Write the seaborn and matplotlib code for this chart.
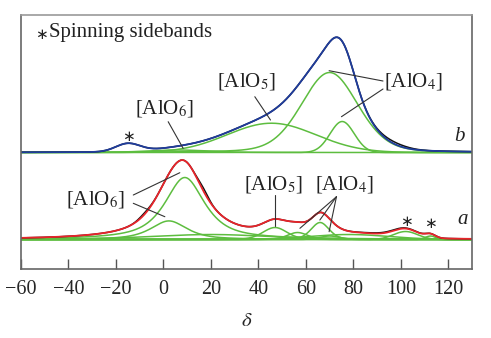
import numpy as np
import pandas as pd
import matplotlib
matplotlib.use("Agg")
import matplotlib.pyplot as plt
import seaborn as sns

# ---------------- data ----------------
# chemical shift grid
delta = np.linspace(-60, 130, 951)

# spectrum b (upper) : fitted components  (center, height, fwhm, lorentz fraction)
b_base = 116.5
b_centers = [6.0, 45.5, 70.0, 75.3]
b_heights = [2.5, 29.3, 80.0, 31.0]
b_widths = [30.0, 44.0, 28.0, 12.0]
b_eta = [0.3, 0.0, 0.2, 0.0]
# spinning sideband in b (in the fit, no separate component drawn)
b_sb_center = [-15.0]
b_sb_height = [8.0]
b_sb_width = [12.0]
# experiment - fit residual bumps in b
b_res_center = [97.0]
b_res_height = [2.0]
b_res_width = [14.0]

# spectrum a (lower) : fitted components
a_base = 29.5
a_centers = [9.0, 2.3, 20.0, 47.0, 56.5, 66.0, 70.0, 78.0, 102.0, 112.5]
a_heights = [62.0, 18.6, 5.0, 12.0, 7.0, 17.0, 3.5, 5.0, 8.0, 3.5]
a_widths = [20.0, 18.0, 60.0, 12.0, 10.0, 9.0, 10.0, 40.0, 12.0, 5.0]
a_eta = [0.8, 0.7, 0.5, 0.2, 0.2, 0.3, 0.0, 0.0, 0.0, 0.0]
# experiment - fit residual bumps in a
a_res_center = [17.0, -8.0, 95.0]
a_res_height = [3.0, 1.5, 0.8]
a_res_width = [5.0, 6.0, 20.0]

xticks = [-60, -40, -20, 0, 20, 40, 60, 80, 100, 120]


def pv(x, c, h, w, eta):
    L = 1.0 / (1.0 + ((x - c) / (w / 2.0)) ** 2)
    G = np.exp(-4 * np.log(2) * ((x - c) / w) ** 2)
    return h * (eta * L + (1 - eta) * G)


# ---------------- build curves ----------------
b_comps = [pv(delta, c, h, w, e) for c, h, w, e in zip(b_centers, b_heights, b_widths, b_eta)]
b_sb = [pv(delta, c, h, w, 0) for c, h, w in zip(b_sb_center, b_sb_height, b_sb_width)]
b_fit = np.sum(b_comps, axis=0) + np.sum(b_sb, axis=0)
b_exp = b_fit + np.sum([pv(delta, c, h, w, 0) for c, h, w in zip(b_res_center, b_res_height, b_res_width)], axis=0)

a_comps = [pv(delta, c, h, w, e) for c, h, w, e in zip(a_centers, a_heights, a_widths, a_eta)]
a_fit = np.sum(a_comps, axis=0)
a_exp = a_fit + np.sum([pv(delta, c, h, w, 0) for c, h, w in zip(a_res_center, a_res_height, a_res_width)], axis=0)

green_df = []
for i, comp in enumerate(b_comps):
    green_df.append(pd.DataFrame({"delta": delta, "y": b_base + comp, "curve": f"b{i}"}))
for i, comp in enumerate(a_comps):
    green_df.append(pd.DataFrame({"delta": delta, "y": a_base + comp, "curve": f"a{i}"}))
green_df = pd.concat(green_df, ignore_index=True)

exp_df = pd.concat([
    pd.DataFrame({"delta": delta, "y": b_base + b_exp, "curve": "b"}),
    pd.DataFrame({"delta": delta, "y": a_base + a_exp, "curve": "a"}),
], ignore_index=True)

# ---------------- plot ----------------
sns.set_theme(style="white")
plt.rcParams["font.family"] = ["Liberation Serif", "DejaVu Serif", "DejaVu Sans"]
plt.rcParams["mathtext.fontset"] = "stix"

fig = plt.figure(figsize=(4.91, 3.38), dpi=100)
ax = fig.add_axes([0.0428, 0.2041, 0.9185, 0.7515])

green = "#5dbd3f"
sns.lineplot(data=green_df, x="delta", y="y", units="curve", estimator=None,
             color=green, lw=1.1, ax=ax, sort=False)
sns.lineplot(data=exp_df, x="delta", y="y", units="curve", estimator=None,
             color="#111111", lw=1.1, ax=ax, sort=False)
sns.lineplot(x=delta, y=b_base + b_fit, color="#1f3c9c", lw=1.3, ax=ax, sort=False)
sns.lineplot(x=delta, y=a_base + a_fit, color="#e8242a", lw=1.3, ax=ax, sort=False)

ax.set_xlim(-60, 130)
ax.set_ylim(0, 254)
ax.set_yticks([])
ax.set_xticks(xticks)
ax.set_xticklabels([str(t).replace("-", "\u2212") for t in xticks], fontsize=14.5)
ax.tick_params(axis="x", direction="in", length=7, width=1.0, color="#555555",
               pad=8, bottom=True)
ax.set_xlabel(r"$\delta$", fontsize=15, labelpad=9)
ax.set_ylabel("")
for s in ax.spines.values():
    s.set_color("#666666")
    s.set_linewidth(1.2)
ax.spines["top"].set_color("#999999")

tkw = dict(fontsize=15, ha="center", va="center", color="#222222")
lkw = dict(color="#333333", lw=0.8)

# legend-like note
ax.text(-51.6, 234.5, "\u2217", fontsize=11, ha="center", va="center", color="#222222",
        family=["DejaVu Sans"])
ax.text(-48.0, 236.5, "Spinning sidebands", fontsize=15, ha="left", va="center", color="#222222")

# spectrum b annotations
ax.text(0.2, 161, r"[AlO$_6$]", **tkw)
ax.plot([2.0, 8.3], [147.3, 120.7], **lkw)
ax.text(35.0, 187.3, r"[AlO$_5$]", **tkw)
ax.plot([38.5, 45.1], [172.3, 149.0], **lkw)
ax.text(105.5, 187.3, r"[AlO$_4$]", **tkw)
ax.plot([92.5, 69.8], [188.0, 198.3], **lkw)
ax.plot([92.5, 75.0], [180.0, 152.3], **lkw)
ax.text(-14.8, 132.5, "\u2217", fontsize=11, ha="center", va="center", color="#222222",
        family=["DejaVu Sans"])
ax.text(124.6, 132.3, "b", fontsize=15, style="italic", ha="center", va="center", color="#222222")

# spectrum a annotations
ax.text(-28.6, 70.0, r"[AlO$_6$]", **tkw)
ax.plot([-12.7, 6.9], [74.0, 96.3], **lkw)
ax.plot([-12.7, 0.6], [65.7, 52.3], **lkw)
ax.text(46.5, 84.7, r"[AlO$_5$]", **tkw)
ax.plot([46.9, 46.9], [74.0, 43.0], **lkw)
ax.text(76.3, 84.7, r"[AlO$_4$]", **tkw)
for xe, ye in [(57.5, 40.7), (65.9, 49.0), (69.8, 37.3)]:
    ax.plot([72.9, xe], [72.3, ye], **lkw)
ax.text(102.4, 47.5, "\u2217", fontsize=11, ha="center", va="center", color="#222222",
        family=["DejaVu Sans"])
ax.text(112.6, 46.0, "\u2217", fontsize=11, ha="center", va="center", color="#222222",
        family=["DejaVu Sans"])
ax.text(126.0, 49.7, "a", fontsize=15, style="italic", ha="center", va="center", color="#222222")

fig.savefig("out.png", dpi=100)
